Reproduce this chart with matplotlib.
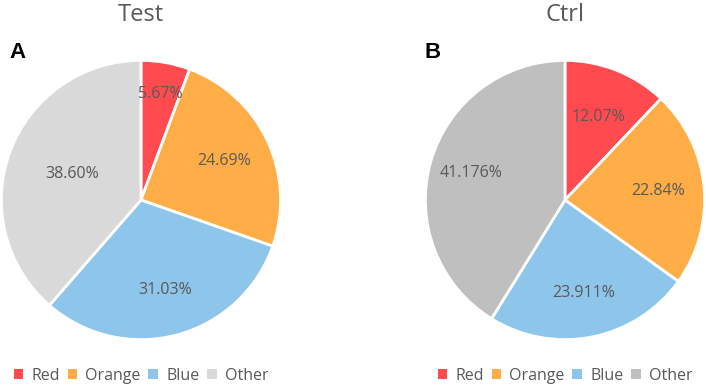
import numpy as np
import matplotlib.pyplot as plt
from matplotlib.patches import Patch

# Дані
categories = ["Red", "Orange", "Blue", "Other"]
test_values = [5.67, 24.69, 31.03, 38.60]
test_labels = ["5.67%", "24.69%", "31.03%", "38.60%"]
ctrl_values = [12.07, 22.84, 23.911, 41.176]
ctrl_labels = ["12.07%", "22.84%", "23.911%", "41.176%"]

test_colors = ["#FF4B4F", "#FFAD47", "#8EC5EA", "#D9D9D9"]
ctrl_colors = ["#FF4B4F", "#FFAD47", "#8EC5EA", "#BFBFBF"]

plt.rcParams['font.family'] = ['Open Sans', 'DejaVu Sans']
txt = "#595959"

fig = plt.figure(figsize=(7.06, 3.87), dpi=100)


def draw_pie(rect, values, labels, colors, title, letter, letter_x, dists):
    ax = fig.add_axes(rect)
    wedges, _ = ax.pie(values, colors=colors, startangle=90, counterclock=False,
                       wedgeprops=dict(edgecolor="white", linewidth=2))
    total = sum(values)
    ang0 = 90.0
    for v, lab, d in zip(values, labels, dists):
        mid = np.deg2rad(ang0 - v / total * 180)
        ang0 -= v / total * 360
        ax.text(d * np.cos(mid), d * np.sin(mid), lab, ha="center", va="center",
                fontsize=11.5, color=txt)
    ax.set_xlim(-1.01, 1.01)
    ax.set_ylim(-1.01, 1.01)
    cx = rect[0] + rect[2] / 2
    fig.text(cx, 1 - 15 / 387, title, ha="center", va="center", fontsize=17, color=txt)
    fig.text(letter_x, 1 - 52 / 387, letter, ha="left", va="center", fontsize=16,
             fontweight="bold", family="Liberation Sans", color="black")
    handles = [Patch(facecolor=c, edgecolor="none") for c in colors]
    fig.legend(handles, categories, loc="center", bbox_to_anchor=(cx, 1 - 376 / 387),
               ncol=4, frameon=False, fontsize=11.5, labelcolor=txt,
               handlelength=0.6, handleheight=0.6, handletextpad=0.5,
               columnspacing=0.5)


draw_pie([0.0, 46 / 387, 282 / 706, 282 / 387], test_values, test_labels, test_colors,
         "Test", "A", 9 / 706, [0.77, 0.66, 0.67, 0.53])
draw_pie([424 / 706, 46 / 387, 282 / 706, 282 / 387], ctrl_values, ctrl_labels, ctrl_colors,
         "Ctrl", "B", 424 / 706, [0.64, 0.67, 0.68, 0.70])

fig.savefig("out.png", dpi=100)
